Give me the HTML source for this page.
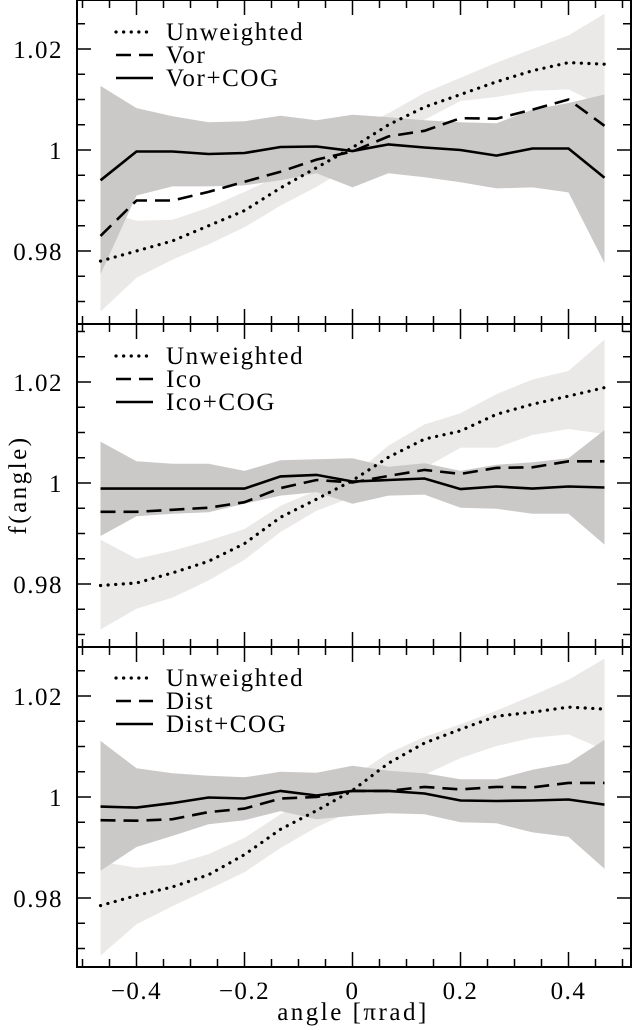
<!DOCTYPE html>
<html><head><meta charset="utf-8"><style>
html,body{margin:0;padding:0;background:#fff;}
svg{display:block;font-family:"Liberation Serif",serif;}
</style></head><body>
<svg id="chart" width="633" height="1030" viewBox="0 0 633 1030" xmlns="http://www.w3.org/2000/svg"></svg>
<script>
const xs = [-0.4667,-0.4,-0.3333,-0.2667,-0.2,-0.1333,-0.0667,0,0.0667,0.1333,0.2,0.2667,0.3333,0.4,0.4667];
const xTicks = [-0.4,-0.2,0,0.2,0.4];
const xTickLabels = ["\u22120.4","\u22120.2","0","0.2","0.4"];
const yTicks = [0.98,1,1.02];
const yTickLabels = ["0.98","1","1.02"];
const legendNames = [["Unweighted","Vor","Vor+COG"],["Unweighted","Ico","Ico+COG"],["Unweighted","Dist","Dist+COG"]];

const p1Dotted = [0.978,0.980,0.982,0.985,0.988,0.9925,0.9965,1.0005,1.005,1.0085,1.011,1.0135,1.0157,1.0173,1.017];
const p1Dashed = [0.983,0.990,0.990,0.9917,0.9937,0.9957,0.9981,0.9997,1.0027,1.0038,1.0063,1.0062,1.008,1.010,1.0048];
const p1Solid  = [0.994,0.9997,0.9997,0.9992,0.9994,1.0006,1.0007,0.9998,1.0011,1.0005,1.0,0.9989,1.0003,1.0003,0.9945];
const p1LightLo = [0.968,0.9747,0.9783,0.9813,0.9847,0.989,0.9927,0.997,1.001,1.006,1.0097,1.0105,1.0117,1.012,1.0085];
const p1LightHi = [0.988,0.986,0.9862,0.9886,0.9917,0.995,0.9995,1.004,1.0073,1.0113,1.0143,1.0173,1.02,1.0227,1.027];
const p1DarkLo = [0.9754,0.991,0.9928,0.9928,0.993,0.994,0.9954,0.9926,0.9954,0.9946,0.9936,0.9924,0.9926,0.9916,0.9776];
const p1DarkHi = [1.0127,1.0083,1.0067,1.0055,1.0057,1.0068,1.0059,1.007,1.0065,1.0059,1.0055,1.0053,1.008,1.0093,1.011];

const p2Dotted = [0.9797,0.9802,0.9822,0.9845,0.988,0.9932,0.9968,1.0005,1.0051,1.0087,1.0103,1.0136,1.0156,1.0172,1.0189];
const p2Dashed = [0.9943,0.9943,0.9947,0.9951,0.9962,0.999,1.0006,1.0001,1.0014,1.0026,1.0018,1.003,1.0031,1.0043,1.0043];
const p2Solid  = [0.9989,0.9989,0.9989,0.9989,0.9989,1.0013,1.0016,1.0003,1.0006,1.0009,0.9988,0.9993,0.9989,0.9993,0.9991];
const p2LightLo = [0.971,0.9751,0.9773,0.9807,0.9848,0.9903,0.9945,0.9972,0.9995,1.003,1.007,1.007,1.0095,1.0107,1.0097];
const p2LightHi = [0.9888,0.985,0.9866,0.9886,0.9909,0.9955,0.9985,1.0014,1.0074,1.0116,1.0138,1.0176,1.0205,1.0222,1.0284];
const p2DarkLo = [0.9895,0.9934,0.9939,0.9942,0.9959,0.9975,0.9982,0.9959,0.9975,0.9977,0.9951,0.9949,0.9939,0.9939,0.9878];
const p2DarkHi = [1.0082,1.0043,1.0038,1.0038,1.0024,1.0045,1.0047,1.0049,1.0032,1.0039,1.0024,1.0036,1.0041,1.0049,1.0105];

const p3Dotted = [0.9785,0.9805,0.9822,0.9846,0.9886,0.9936,0.9973,1.0013,1.0067,1.0107,1.0134,1.016,1.0168,1.0178,1.0174];
const p3Dashed = [0.9954,0.9953,0.9956,0.997,0.9977,0.9997,1.0,1.0012,1.0012,1.002,1.0015,1.002,1.0019,1.0028,1.0028];
const p3Solid  = [0.9981,0.9979,0.9988,0.9999,0.9997,1.0012,1.0003,1.0012,1.0012,1.0007,0.9993,0.9992,0.9993,0.9995,0.9985];
const p3LightLo = [0.9686,0.9748,0.9784,0.9817,0.9851,0.9899,0.994,0.9973,1.0007,1.0044,1.0077,1.0101,1.0117,1.0124,1.0093];
const p3LightHi = [0.9872,0.986,0.9866,0.9887,0.9919,0.9966,1.0007,1.004,1.0087,1.0119,1.0144,1.0171,1.0201,1.0232,1.0274];
const p3DarkLo = [0.9854,0.9901,0.9923,0.9946,0.9954,0.9972,0.9956,0.9963,0.9968,0.9966,0.995,0.9948,0.993,0.9921,0.9858];
const p3DarkHi = [1.0111,1.0057,1.0047,1.0042,1.0039,1.005,1.0048,1.0062,1.0052,1.0047,1.0035,1.0035,1.0054,1.0067,1.0113];

const panels = [
 {top:0,bottom:324,c:150,dotted:p1Dotted,dashed:p1Dashed,solid:p1Solid,lLo:p1LightLo,lHi:p1LightHi,dLo:p1DarkLo,dHi:p1DarkHi,leg:32},
 {top:324,bottom:647,c:483,dotted:p2Dotted,dashed:p2Dashed,solid:p2Solid,lLo:p2LightLo,lHi:p2LightHi,dLo:p2DarkLo,dHi:p2DarkHi,leg:356},
 {top:647,bottom:967,c:797,dotted:p3Dotted,dashed:p3Dashed,solid:p3Solid,lLo:p3LightLo,lHi:p3LightHi,dLo:p3DarkLo,dHi:p3DarkHi,leg:678}
];
const L=77, R=631;
const NS="http://www.w3.org/2000/svg";
const svg=document.getElementById('chart');
function X(v){return 352.5+v*540;}
function mk(tag,attrs,parent){const e=document.createElementNS(NS,tag);for(const k in attrs)e.setAttribute(k,attrs[k]);(parent||svg).appendChild(e);return e;}
function linePts(p,arr){return arr.map((v,i)=>X(xs[i]).toFixed(1)+','+(p.c-(v-1)*5050).toFixed(1)).join(' ');}
function bandPts(p,lo,hi){const a=hi.map((v,i)=>X(xs[i]).toFixed(1)+','+(p.c-(v-1)*5050).toFixed(1));const b=lo.map((v,i)=>X(xs[i]).toFixed(1)+','+(p.c-(v-1)*5050).toFixed(1)).reverse();return a.concat(b).join(' ');}
const styles={dotted:{'stroke-dasharray':'0.1 7.5','stroke-linecap':'round','stroke-width':3.2},dashed:{'stroke-dasharray':'15 8','stroke-width':2.6},solid:{'stroke-width':2.6}};

panels.forEach((p,pi)=>{
  const g=mk('g',{});
  
  
  const cp=mk('clipPath',{id:'clip'+pi},g);
  mk('rect',{x:L,y:p.top,width:R-L,height:p.bottom-p.top},cp);
  const lb=mk('polygon',{points:bandPts(p,p.lLo,p.lHi),fill:'#ebe8e8','clip-path':'url(#clip'+pi+')'},g);
  
  
  const db=mk('polygon',{points:bandPts(p,p.dLo,p.dHi),fill:'#cbc8c8','clip-path':'url(#clip'+pi+')'},g);
  
  
  ['dotted','dashed','solid'].forEach((k,ki)=>{
    const a=Object.assign({points:linePts(p,p[k]),fill:'none',stroke:'#000','stroke-linejoin':'miter'},styles[k]);
    const pl=mk('polyline',a,g);
    
    
    const ly=p.leg+ki*23;
    const ll=mk('line',Object.assign({x1:116,x2:153,y1:ly,y2:ly,stroke:'#000'},styles[k]),g);
    
    
    const t=mk('text',{x:166,y:ly+8,'font-size':25,'letter-spacing':1.6,fill:'#000'},g);
    t.textContent=legendNames[pi][ki];
    
    
  });
  for(let v=0.965;v<=1.0301;v+=0.005){
    const y=p.c-(v-1)*5050; if(y<p.top+2||y>p.bottom-2)continue;
    const major=yTicks.some(t=>Math.abs(t-v)<1e-6); const len=major?14:8;
    mk('line',{x1:L,x2:L+len,y1:y,y2:y,stroke:'#000','stroke-width':1.5},g);
    mk('line',{x1:R,x2:R-len,y1:y,y2:y,stroke:'#000','stroke-width':1.5},g);
  }
  yTicks.forEach((v,i)=>{
    const t=mk('text',{x:63,y:p.c-(v-1)*5050+9,'font-size':25,'letter-spacing':1.5,'text-anchor':'end',fill:'#000'},g);
    t.textContent=yTickLabels[i];
    
    
  });
  for(let k=-10;k<=10;k++){
    const v=k*0.05; const x=X(v); if(x<L||x>R+1)continue;
    const major=xTicks.some(t=>Math.abs(t-v)<1e-6); const len=major?15:8;
    mk('line',{x1:x,x2:x,y1:p.bottom,y2:p.bottom-len,stroke:'#000','stroke-width':1.5},g);
    mk('line',{x1:x,x2:x,y1:p.top,y2:p.top+len,stroke:'#000','stroke-width':1.5},g);
  }
  const fr=mk('rect',{x:L,y:p.top,width:R-L,height:p.bottom-p.top,fill:'none',stroke:'#000','stroke-width':2},g);
  
  
});
xTicks.forEach((v,i)=>{
  const t=mk('text',{x:X(v),y:999,'font-size':25,'letter-spacing':1.5,'text-anchor':'middle',fill:'#000'});
  t.textContent=xTickLabels[i];
  
  
});
const xt=mk('text',{x:353,y:1020,'font-size':25,'letter-spacing':2.5,'text-anchor':'middle',fill:'#000'});
xt.textContent='angle [\u03c0rad]';


const yt=mk('text',{x:0,y:0,'font-size':25,'letter-spacing':2.5,'text-anchor':'middle',fill:'#000',transform:'translate(26,485) rotate(-90)'});
yt.textContent='f(angle)';


</script>
</body></html>
